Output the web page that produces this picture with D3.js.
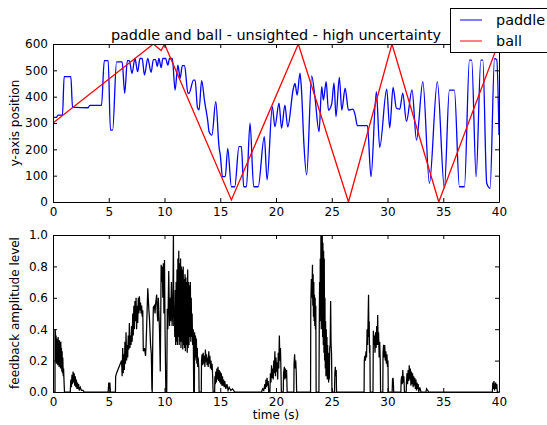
<!DOCTYPE html>
<html>
<head>
<meta charset="utf-8">
<script src="https://cdn.jsdelivr.net/npm/d3@7"></script>
<style>
body { margin: 0; background: #fff; }
svg text { font-family: "DejaVu Sans", sans-serif; fill: #000; }
</style>
</head>
<body>
<div id="chart"></div>
<script>
// values: [time (s), value]
var paddle = [
	[0,321],[0.3,321],[0.45,330],[0.85,330],[1.0,476],[1.6,476],[1.75,360],[3.15,358],[3.3,367],[4.35,367],
	[4.6,537],[4.95,537],[5.15,273],[5.35,273],[5.7,532],[6.2,532],[6.43,413],[6.67,537],[6.85,537],[7.08,488],
	[7.35,545],[7.59,495],[7.8,545],[8.0,545],[8.2,482],[8.5,545],[8.8,492],[9.0,541],[9.2,541],[9.35,515],
	[9.5,545],[9.7,510],[9.85,545],[10.1,545],[10.3,520],[10.45,545],[10.7,545],[10.95,425],[11.2,520],[11.4,470],
	[11.6,518],[11.8,518],[12.1,413],[12.2,413],[12.6,463],[12.75,463],[12.95,360],[13.1,350],[13.33,461],[13.6,381],
	[13.87,311],[14.0,267],[14.25,254],[14.6,381],[14.9,205],[15.0,180],[15.2,96],[15.45,96],[15.67,204],[16.0,58],
	[16.3,58],[16.68,210],[16.9,210],[17.1,58],[17.35,58],[17.67,299],[18.0,58],[18.4,58],[18.95,248],[19.2,84],
	[19.67,362],[19.9,286],[20.27,375],[20.5,280],[20.8,368],[21.05,285],[21.55,430],[21.7,450],[21.9,406],[22.15,489],
	[22.3,415],[22.5,223],[22.75,103],[23.2,479],[23.5,395],[23.86,267],[24.1,438],[24.25,387],[24.5,457],[24.7,349],
	[25.0,373],[25.2,452],[25.38,324],[25.68,473],[25.9,349],[26.2,432],[26.5,349],[26.9,353],[27.1,330],[27.3,290],
	[28.2,290],[28.52,96],[29.0,419],[29.3,207],[29.93,429],[30.2,281],[30.5,435],[30.8,356],[31.1,353],[31.37,413],
	[31.7,306],[32.2,426],[32.6,235],[33.17,457],[33.76,71],[34.47,457],[35.1,52],[35.55,425],[36.0,425],[36.45,58],
	[36.9,58],[37.35,539],[37.55,539],[37.95,96],[38.37,539],[38.55,539],[38.9,71],[39.2,52],[39.6,545],[39.8,540],
	[40,254]
];

var ball = [
	[0,300],[9.0,600],[9.7,575],[10.0,600],[16.0,8],[22.0,600],[26.5,0],[30.4,600],[34.6,0],[39.7,575],[40,590]
];

var feedback = [
	[0,0],[0.18,0],[0.18,0.4],[0.22,0.38],[0.25,0.2],[0.28,0.36],[0.31,0.18],[0.34,0.34],[0.37,0.22],[0.4,0.33],
	[0.43,0.17],[0.46,0.35],[0.49,0.2],[0.52,0.31],[0.55,0.16],[0.58,0.33],[0.61,0.21],[0.64,0.3],[0.67,0.15],[0.7,0.32],
	[0.73,0.19],[0.76,0.28],[0.79,0.13],[0.82,0.26],[0.85,0.12],[0.88,0.22],[0.92,0.1],[0.95,0.15],[1.0,0.05],[1.03,0],
	[1.55,0],[1.6,0.08],[1.65,0.03],[1.7,0.11],[1.75,0.05],[1.8,0.13],[1.85,0.06],[1.9,0.12],[1.95,0.04],[2.0,0.1],
	[2.05,0.03],[2.1,0.08],[2.15,0.02],[2.2,0.06],[2.25,0.02],[2.3,0.05],[2.35,0.01],[2.45,0.03],[2.55,0.01],[2.7,0.01],
	[2.8,0],[4.95,0],[5.0,0.06],[5.05,0.02],[5.1,0.06],[5.15,0],
	[5.6,0],[5.62,0.1],[5.7,0.12],[6.15,0.2],
	[6.2,0.1],[6.25,0.28],[6.3,0.12],[6.35,0.24],[6.4,0.14],[6.45,0.32],[6.5,0.18],[6.55,0.38],[6.6,0.2],[6.65,0.3],
	[6.7,0.22],[6.75,0.36],[6.8,0.27],[6.85,0.44],[6.9,0.28],[6.95,0.36],[7.0,0.3],[7.05,0.42],[7.1,0.32],[7.15,0.5],
	[7.2,0.36],[7.25,0.55],[7.3,0.4],[7.35,0.58],[7.4,0.45],[7.45,0.6],[7.5,0.4],[7.55,0.55],[7.6,0.44],[7.65,0.6],
	[7.7,0.5],[7.75,0.61],[7.8,0.52],[7.85,0.57],[7.9,0.5],[7.95,0.55],[8.0,0.48],[8.05,0.52],[8.1,0.26],[8.2,0.28],
	[8.3,0.23],[8.35,0.3],[8.4,0.42],[8.5,0.66],[8.6,0.52],[8.65,0.47],[8.75,0.3],[8.82,0.24],[8.87,0.02],[8.9,0],
	[8.95,0.35],[9.0,0.54],[9.1,0.55],[9.15,0.5],[9.2,0.56],[9.3,0.62],[9.35,0.5],[9.4,0.45],[9.45,0.6],[9.55,0.4],
	[9.62,0.13],[9.7,0.81],[9.75,0.7],[9.8,0.8],[9.85,0.6],[9.9,0.82],[9.95,0.5],[10.0,0.84],[10.05,0.4],[10.12,0],
	[10.2,0],[10.25,0.53],[10.3,0.4],[10.38,0.77],[10.45,0.42],[10.5,0.6],[10.55,0.45],[10.62,0.7],[10.68,0.42],[10.75,0.55],
	[10.8,1.0],[10.83,0.42],[10.88,0.55],[10.92,0.35],[10.96,0.65],[11.0,0.3],[11.04,0.7],[11.08,0.32],[11.12,0.78],[11.16,0.3],
	[11.2,0.85],[11.24,0.35],[11.28,0.9],[11.32,0.3],[11.36,0.82],[11.4,0.32],[11.44,0.85],[11.48,0.28],[11.52,0.8],[11.56,0.32],
	[11.6,0.78],[11.64,0.27],[11.68,0.8],[11.72,0.3],[11.76,0.72],[11.8,0.28],[11.84,0.75],[11.88,0.26],[11.92,0.73],[11.96,0.3],
	[12.0,0.7],[12.04,0.25],[12.08,0.78],[12.12,0.28],[12.16,0.7],[12.2,0.3],[12.24,0.68],[12.28,0.35],[12.32,0.7],[12.36,0.32],
	[12.4,0.6],[12.44,0.35],[12.48,0.5],[12.52,0.3],[12.58,0.4],[12.62,0],[12.68,0],[12.7,0.38],[12.74,0.2],[12.78,0.36],
	[12.82,0.22],[12.86,0.34],[12.9,0.18],[12.94,0.28],[12.98,0.16],[13.02,0.22],[13.08,0.15],[13.1,0],
	[13.3,0],[13.32,0.2],[13.37,0.24],[13.42,0.17],[13.47,0.25],[13.52,0.18],[13.57,0.23],[13.62,0.16],[13.67,0.27],[13.72,0.19],
	[13.77,0.24],[13.82,0.17],[13.87,0.22],[13.92,0.16],[13.97,0.26],[14.02,0.18],[14.07,0.23],[14.12,0.15],[14.17,0.2],[14.22,0.14],
	[14.27,0.18],[14.32,0.1],[14.36,0],
	[14.5,0],[14.52,0.1],[14.56,0.05],[14.6,0.13],[14.65,0.06],[14.7,0.15],[14.75,0.08],[14.8,0.16],[14.85,0.07],[14.9,0.14],
	[14.95,0.06],[15.0,0.13],[15.05,0.05],[15.1,0.12],[15.15,0.04],[15.2,0.1],[15.25,0.04],[15.3,0.08],[15.35,0.03],[15.4,0.07],
	[15.5,0.02],[15.6,0.05],[15.7,0.01],[15.8,0.03],[15.95,0.01],[16.1,0.02],[16.3,0],
	[18.7,0],[18.8,0.02],[18.9,0.01],[19.0,0.05],[19.05,0.02],[19.1,0.08],[19.15,0.03],[19.2,0.09],[19.25,0.04],[19.3,0.07],
	[19.35,0],[19.45,0],[19.5,0.12],[19.55,0.06],[19.6,0.17],[19.65,0.09],[19.7,0.15],[19.75,0.08],[19.8,0.2],[19.85,0.12],
	[19.9,0.26],[19.95,0.1],[20.0,0.22],[20.05,0.13],[20.1,0.19],[20.15,0.08],[20.2,0.25],[20.25,0.15],[20.3,0.36],[20.35,0.2],
	[20.4,0.28],[20.45,0.12],[20.48,0],[20.65,0],[20.68,0.12],[20.75,0.16],[20.8,0.08],[20.85,0.15],[20.9,0.09],[20.95,0.14],
	[21.0,0],[21.6,0],[21.62,0.18],[21.67,0.24],[21.72,0.15],[21.77,0.2],[21.82,0.12],[21.85,0],
	[23.1,0],[23.12,0.55],[23.17,0.72],[23.22,0.6],[23.27,0.81],[23.3,0.55],[23.33,0.75],[23.36,0.48],[23.39,0.7],[23.42,0.45],
	[23.45,0.62],[23.48,0.42],[23.51,0.6],[23.54,0.4],[23.57,0.55],[23.6,0],[23.85,0],[23.88,0.4],[23.91,0.7],[23.94,0.45],
	[23.97,0.85],[24.0,0.5],[24.03,1.0],[24.06,0.4],[24.09,1.0],[24.12,0.45],[24.15,1.0],[24.18,0.35],[24.21,0.95],[24.24,0.3],
	[24.27,0.9],[24.3,0.25],[24.33,0.85],[24.36,0.2],[24.39,0.6],[24.42,0.15],[24.45,0.45],[24.48,0.1],[24.51,0.4],[24.54,0.12],
	[24.57,0.35],[24.6,0.08],[24.63,0.3],[24.66,0.1],[24.69,0.25],[24.72,0.06],[24.75,0.2],[24.78,0.08],[24.82,0.28],[24.86,0.3],
	[24.9,0.58],[24.94,0.3],[24.98,0.25],[25.02,0],[25.25,0],[25.28,0.12],[25.32,0.16],[25.36,0.1],[25.4,0.14],[25.43,0],
	[27.9,0],[27.92,0.2],[27.97,0.23],[28.02,0.2],[28.07,0.26],[28.12,0.22],[28.17,0.4],[28.22,0.3],[28.27,0.5],[28.3,0.62],
	[28.33,0.35],[28.36,0.45],[28.39,0.25],[28.42,0.3],[28.45,0],[28.7,0],[28.73,0.39],[28.78,0.3],[28.83,0.36],[28.88,0.25],
	[28.93,0.38],[28.98,0.28],[29.03,0.42],[29.08,0.3],[29.12,0.49],[29.16,0.3],[29.2,0.38],[29.25,0.22],[29.3,0.32],[29.35,0.2],
	[29.38,0],[29.58,0],[29.6,0.25],[29.65,0.3],[29.7,0.22],[29.75,0.3],[29.8,0.2],[29.85,0.26],[29.9,0.18],[29.95,0.24],
	[30.0,0.16],[30.04,0.2],[30.07,0],[30.42,0],[30.45,0.08],[30.5,0.09],[30.53,0.05],[30.56,0],
	[31.2,0],[31.22,0.07],[31.27,0.1],[31.32,0.05],[31.37,0.14],[31.42,0.06],[31.47,0.1],[31.52,0],[31.68,0],[31.7,0.06],
	[31.75,0.12],[31.8,0.05],[31.85,0.14],[31.9,0.07],[31.95,0.17],[32.0,0.08],[32.05,0.15],[32.1,0.04],[32.15,0.13],[32.2,0.05],
	[32.25,0.12],[32.3,0.03],[32.35,0.1],[32.4,0.04],[32.45,0.09],[32.5,0.02],[32.55,0.08],[32.6,0.01],[32.65,0.06],[32.7,0.02],
	[32.75,0.05],[32.8,0],[32.9,0.03],[33.0,0],[33.45,0],[33.5,0.02],[33.6,0.01],[33.7,0],
	[39.4,0],[39.45,0.06],[39.5,0.02],[39.55,0.07],[39.6,0.01],[39.7,0.06],[39.75,0.02],[39.8,0.05],[39.85,0],[40,0]
];

var timeTicks = [0,5,10,15,20,25,30,35,40];
var posTicks = [0,100,200,300,400,500,600];
var ampTicks = [0,0.2,0.4,0.6,0.8,1.0];
var legendNames = ["paddle","ball"];
var legendColors = ["#0000ff","#ff0000"];

var w = 547;
var h = 425;

var svg = d3.select("#chart")
			.append("svg")
			.attr("width", w)
			.attr("height", h);

var x = d3.scaleLinear().domain([0,40]).range([53,499]);
var yPos = d3.scaleLinear().domain([0,600]).range([202,44]);
var yAmp = d3.scaleLinear().domain([0,1]).range([392,235]);

function clip(id, y0, y1) {
	svg.append("clipPath")
		.attr("id", id)
		.append("rect")
		.attr("x", 53)
		.attr("y", y0)
		.attr("width", 446)
		.attr("height", y1 - y0);
}
clip("clipTop", 44, 202);
clip("clipBot", 235, 392);

var paddleLine = d3.line()
				.x(d => x(d[0]))
				.y(d => yPos(d[1]))
				.curve(d3.curveMonotoneX);
var straightPos = d3.line()
				.x(d => x(d[0]))
				.y(d => yPos(d[1]));
var ampLine = d3.line()
				.x(d => x(d[0]))
				.y(d => yAmp(d[1]));

svg.append("path")
	.datum(paddle)
	.attr("d", paddleLine)
	.attr("fill", "none")
	.attr("stroke", "#0000ff")
	.attr("stroke-width", 1.3)
	.attr("clip-path", "url(#clipTop)");

svg.append("path")
	.datum(ball)
	.attr("d", straightPos)
	.attr("fill", "none")
	.attr("stroke", "#ff0000")
	.attr("stroke-width", 1.3)
	.attr("clip-path", "url(#clipTop)");

svg.append("path")
	.datum(feedback)
	.attr("d", ampLine)
	.attr("fill", "none")
	.attr("stroke", "#000")
	.attr("stroke-width", 1.25)
	.attr("clip-path", "url(#clipBot)");

// axes with inward ticks on all four sides
function frame(y, ticks, y0, y1, fmt) {
	var g = svg.append("g");
	g.append("g")
		.attr("transform", "translate(0," + y1 + ")")
		.call(d3.axisBottom(x).tickValues(timeTicks).tickSizeInner(-4).tickSizeOuter(0).tickPadding(5).tickFormat(d3.format("d")));
	g.append("g")
		.attr("transform", "translate(0," + y0 + ")")
		.call(d3.axisTop(x).tickValues(timeTicks).tickSizeInner(-4).tickSizeOuter(0).tickFormat(""));
	g.append("g")
		.attr("transform", "translate(53,0)")
		.call(d3.axisLeft(y).tickValues(ticks).tickSizeInner(-4).tickSizeOuter(0).tickPadding(5).tickFormat(fmt));
	g.append("g")
		.attr("transform", "translate(499,0)")
		.call(d3.axisRight(y).tickValues(ticks).tickSizeInner(-4).tickSizeOuter(0).tickFormat(""));
	g.selectAll(".domain").attr("stroke", "#000");
	g.selectAll(".tick line").attr("stroke", "#000");
	g.selectAll("text")
		.attr("font-size", 12)
		.attr("font-family", "DejaVu Sans");
}
frame(yPos, posTicks, 44, 202, d3.format("d"));
frame(yAmp, ampTicks, 235, 392, d3.format(".1f"));

svg.append("text")
	.attr("x", 276)
	.attr("y", 40)
	.attr("text-anchor", "middle")
	.attr("font-size", 14.4)
	.text("paddle and ball - unsighted - high uncertainty");

svg.append("text")
	.attr("transform", "translate(19,123) rotate(-90)")
	.attr("text-anchor", "middle")
	.attr("font-size", 12)
	.text("y-axis position");

svg.append("text")
	.attr("transform", "translate(19,313) rotate(-90)")
	.attr("text-anchor", "middle")
	.attr("font-size", 12)
	.text("feedback amplitude level");

svg.append("text")
	.attr("x", 276)
	.attr("y", 419)
	.attr("text-anchor", "middle")
	.attr("font-size", 12)
	.text("time (s)");

// legend
var legend = svg.append("g");
legend.append("rect")
	.attr("x", 450.5)
	.attr("y", 8.5)
	.attr("width", 120)
	.attr("height", 44)
	.attr("fill", "#fff")
	.attr("stroke", "#000");
legend.selectAll("line.key")
	.data(legendNames)
	.enter()
	.append("line")
	.attr("x1", 460)
	.attr("x2", 482)
	.attr("y1", (d, i) => 20 + i * 21)
	.attr("y2", (d, i) => 20 + i * 21)
	.attr("stroke", (d, i) => legendColors[i]);
legend.selectAll("text")
	.data(legendNames)
	.enter()
	.append("text")
	.attr("x", 496)
	.attr("y", (d, i) => 20 + i * 21)
	.attr("dy", "0.35em")
	.attr("font-size", 14.4)
	.text(d => d);
</script>
</body>
</html>
